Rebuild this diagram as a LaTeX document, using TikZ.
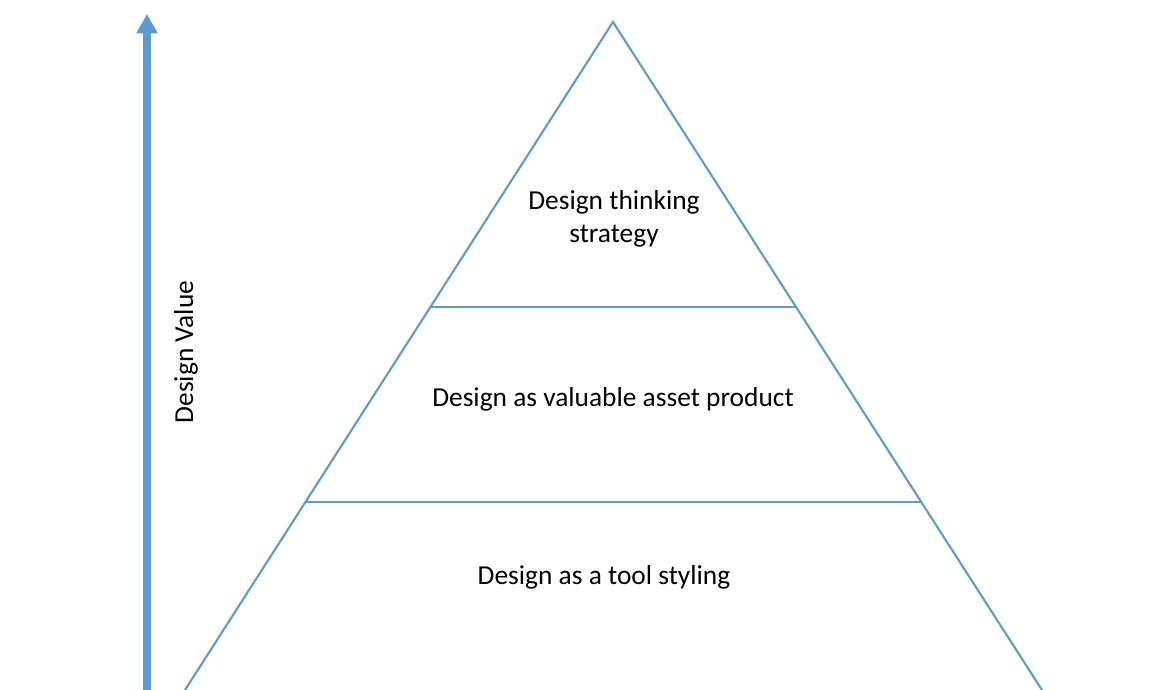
\documentclass[tikz,border=0pt]{standalone}
\usepackage{fontspec}
\setmainfont{Carlito}
\usetikzlibrary{calc,arrows.meta}
\definecolor{pyrblue}{RGB}{91,155,213}
\tikzset{edge/.style={pyrblue, line width=1.2pt},
	lvl/.style={font=\fontsize{15.6}{18.7}\selectfont, align=center}}
\begin{document}
\begin{tikzpicture}[x=0.02cm,y=-0.02cm]
\useasboundingbox (0,0) rectangle (1167,690);
\clip (0,0) rectangle (1167,690);
\coordinate (apex) at (613,22);
\coordinate (baseL) at (185,690);
\coordinate (baseR) at (1042,690);
\coordinate (l1) at ($(apex)!0.4266!(baseL)$);
\coordinate (r1) at ($(apex)!0.4266!(baseR)$);
\coordinate (l2) at ($(apex)!0.7186!(baseL)$);
\coordinate (r2) at ($(apex)!0.7186!(baseR)$);
\draw[edge](baseL)--(apex)--(baseR);
\draw[edge](l1)--(r1);
\draw[edge](l2)--(r2);
\node[lvl] (top) at (614,219){Design thinking\\strategy};
\node[lvl] (mid) at (613,399){Design as valuable asset product};
\node[lvl] (low) at (604,577){Design as a tool styling};
\coordinate (vbot) at (147,690);
\coordinate (vtop) at (147,14);
\draw[pyrblue, line width=4.2pt, -{Triangle[length=11pt,width=11.5pt]}](vbot)--(vtop);
\node[lvl, rotate=90] (val) at (186,352){Design Value};
\end{tikzpicture}
\end{document}
